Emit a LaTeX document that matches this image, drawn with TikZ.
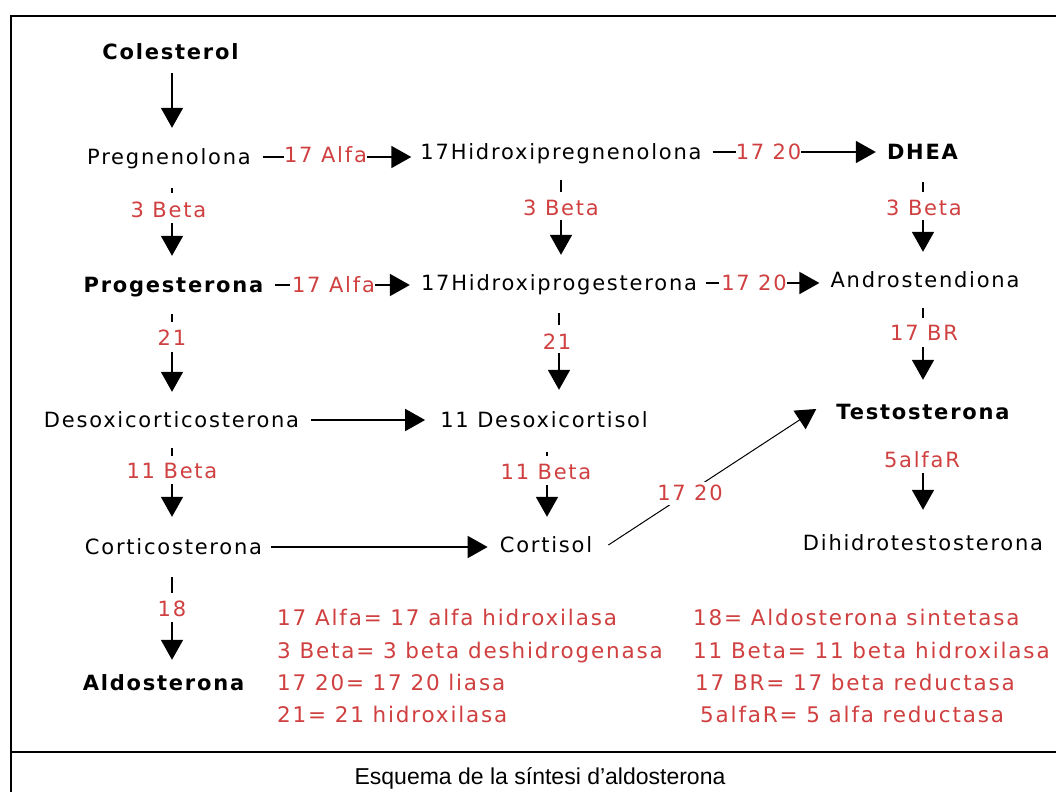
\documentclass[tikz,border=0pt]{standalone}
\usepackage{fontspec}
\setmainfont{DejaVu Sans}[LetterSpace=8.5]
\newfontfamily\capfont{Liberation Sans}
\usetikzlibrary{arrows.meta}
\definecolor{enz}{RGB}{208,64,64}
\begin{document}
\begin{tikzpicture}[x=1pt,y=-1pt,
  every node/.style={inner sep=0pt, text height=17pt, text depth=2pt, font=\fontsize{21}{25}\selectfont},
  bcmp/.style={font=\fontsize{21}{25}\selectfont\bfseries},
  enzl/.style={text=enz},
  lgd/.style={text=enz, anchor=west, font=\fontsize{21.5}{25}\selectfont},
  ln/.style={line width=1.8pt},
  arr/.style={line width=1.8pt, -{Triangle[length=20pt,width=22pt]}},
  diag/.style={line width=1pt, -{Triangle[length=20pt,width=22pt]}},
  frame/.style={line width=2pt}
]
\useasboundingbox (0,0) rectangle (1056,792);
\fill[white] (0,0) rectangle (1056,792);
\draw[frame] (10.5,792) -- (10.5,16) -- (1056,16);
\draw[frame] (10.5,751.5) -- (1056,751.5);

% compounds
\node[bcmp] (col) at (170.5,52) {Colesterol};
\node (preg) at (169,157) {Pregnenolona};
\node (hpreg) at (561,152) {17Hidroxipregnenolona};
\node[bcmp] (dhea) at (922.5,152) {DHEA};
\node[bcmp] (prog) at (173.5,285) {Progesterona};
\node (hprog) at (559,283) {17Hidroxiprogesterona};
\node (andro) at (925,280) {Androstendiona};
\node (desoxc) at (171.5,420) {Desoxicorticosterona};
\node (desoxcort) at (544,420) {11 Desoxicortisol};
\node[bcmp] (testo) at (923,412) {Testosterona};
\node (cortc) at (173.5,547) {Corticosterona};
\node (cortisol) at (546,545) {Cortisol};
\node (dht) at (923,543) {Dihidrotestosterona};
\node[bcmp] (aldo) at (163.5,683) {Aldosterona};

% enzyme labels on vertical steps
\node[enzl] (e1) at (168.5,210) {3 Beta};
\node[enzl] (e2) at (172,338) {21};
\node[enzl] (e3) at (172,471) {11 Beta};
\node[enzl] (e4) at (172,609) {18};
\node[enzl] (e5) at (561,208) {3 Beta};
\node[enzl] (e6) at (557,342) {21};
\node[enzl] (e7) at (546,472) {11 Beta};
\node[enzl] (e8) at (924,208) {3 Beta};
\node[enzl] (e9) at (924,333) {17 BR};
\node[enzl] (e10) at (922,460) {5alfaR};
% enzyme labels on horizontal steps
\node[enzl] (h1) at (325.5,155) {17 Alfa};
\node[enzl] (h2) at (768.5,152) {17 20};
\node[enzl] (h3) at (333.5,285) {17 Alfa};
\node[enzl] (h4) at (754,283) {17 20};

\coordinate (X1) at (172,0);
\coordinate (X2) at (561,0);
\coordinate (X2b) at (559,0);
\coordinate (X2c) at (547,0);
\coordinate (X3) at (923,0);

% column 1
\draw[arr, shorten <=11.5pt, shorten >=19.5pt] (X1|-col.south) -- (X1|-preg.north);
\draw[ln, shorten <=21.5pt, shorten >=7.5pt] (X1|-preg.south) -- (X1|-e1.north);
\draw[arr, shorten <=3.5pt, shorten >=19.5pt] (X1|-e1.south) -- (X1|-prog.north);
\draw[ln, shorten <=19.5pt, shorten >=6.5pt] (X1|-prog.south) -- (X1|-e2.north);
\draw[arr, shorten <=4.5pt, shorten >=18.5pt] (X1|-e2.south) -- (X1|-desoxc.north);
\draw[ln, shorten <=18.5pt, shorten >=5.5pt] (X1|-desoxc.south) -- (X1|-e3.north);
\draw[arr, shorten <=3.5pt, shorten >=20.5pt] (X1|-e3.south) -- (X1|-cortc.north);
\draw[ln, shorten <=20.5pt, shorten >=6.5pt] (X1|-cortc.south) -- (X1|-e4.north);
\draw[arr, shorten <=3.5pt, shorten >=13.5pt] (X1|-e4.south) -- (X1|-aldo.north);
% column 2
\draw[ln, shorten <=18.5pt, shorten >=6.5pt] (X2|-hpreg.south) -- (X2|-e5.north);
\draw[arr, shorten <=2.5pt, shorten >=18.5pt] (X2|-e5.south) -- (X2|-hprog.north);
\draw[ln, shorten <=20.5pt, shorten >=7.5pt] (X2b|-hprog.south) -- (X2b|-e6.north);
\draw[arr, shorten <=1.5pt, shorten >=20.5pt] (X2b|-e6.south) -- (X2b|-desoxcort.north);
\draw[ln, shorten <=22.5pt, shorten >=6.5pt] (X2c|-desoxcort.south) -- (X2c|-e7.north);
\draw[arr, shorten <=3.5pt, shorten >=18.5pt] (X2c|-e7.south) -- (X2c|-cortisol.north);
% column 3
\draw[ln, shorten <=20.5pt, shorten >=6.5pt] (X3|-dhea.south) -- (X3|-e8.north);
\draw[arr, shorten <=2.5pt, shorten >=18.5pt] (X3|-e8.south) -- (X3|-andro.north);
\draw[ln, shorten <=18.5pt, shorten >=5.5pt] (X3|-andro.south) -- (X3|-e9.north);
\draw[arr, shorten <=4.5pt, shorten >=22.5pt] (X3|-e9.south) -- (X3|-testo.north);
\draw[arr, shorten <=3.5pt, shorten >=23.5pt] (X3|-e10.south) -- (X3|-dht.north);

% horizontal steps
\draw[ln, shorten <=11.5pt] (preg.east) -- (preg.east -| h1.west);
\draw[arr, shorten >=9pt] (h1.east |- preg.east) -- (preg.east -| hpreg.west);
\draw[ln, shorten <=11pt] (hpreg.east) -- (hpreg.east -| h2.west);
\draw[arr, shorten >=11pt] (h2.east |- hpreg.east) -- (hpreg.east -| dhea.west);
\draw[ln, shorten <=11pt, shorten >=2pt] (prog.east) -- (prog.east -| h3.west);
\draw[arr, shorten >=11pt] (h3.east |- prog.east) -- (prog.east -| hprog.west);
\draw[ln, shorten <=9pt, shorten >=2pt] (hprog.east) -- (hprog.east -| h4.west);
\draw[arr, shorten >=11pt] (h4.east |- hprog.east) -- (hprog.east -| andro.west);
\draw[arr, shorten <=12pt, shorten >=15pt] (desoxc) -- (desoxcort);
\draw[arr, shorten <=9pt, shorten >=12pt] (cortc.east) -- (cortc.east -| cortisol.west);
% diagonal step
\draw[diag] ([xshift=16pt]cortisol.east) -- ([xshift=-20pt,yshift=3pt]testo.west);
\node[enzl, fill=white, inner sep=2pt] (h5) at (690,493) {17 20};

% legend
\node[lgd] (g1) at (277,618) {17 Alfa= 17 alfa hidroxilasa};
\node[lgd] (g2) at (277,651) {3 Beta= 3 beta deshidrogenasa};
\node[lgd] (g3) at (277,683) {17 20= 17 20 liasa};
\node[lgd] (g4) at (277,715) {21= 21 hidroxilasa};
\node[lgd] (g5) at (693,618) {18= Aldosterona sintetasa};
\node[lgd] (g6) at (693,651) {11 Beta= 11 beta hidroxilasa};
\node[lgd] (g7) at (695,683) {17 BR= 17 beta reductasa};
\node[lgd] (g8) at (700,715) {5alfaR= 5 alfa reductasa};

\node[font=\capfont\fontsize{23}{27}\selectfont] (cap) at (540,777) {Esquema de la síntesi d’aldosterona};
\end{tikzpicture}
\end{document}
